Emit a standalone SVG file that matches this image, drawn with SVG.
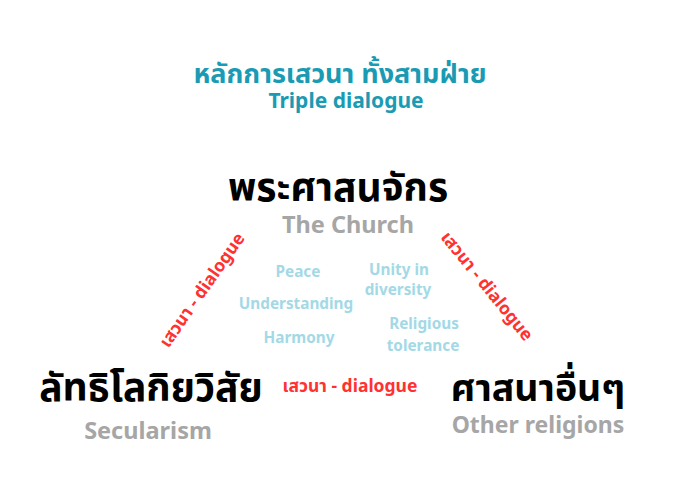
<svg xmlns="http://www.w3.org/2000/svg" width="700" height="503" viewBox="0 0 700 503">
<style>
text{font-family:"Noto Sans","Noto Sans Thai","DejaVu Sans",sans-serif;font-weight:bold;text-anchor:middle}
.title{fill:#1b9bb3;font-size:27px}
.sub{fill:#1b9bb3;font-size:21px}
.big{fill:#000;font-size:39px}
.en{fill:#a6a6a6;font-size:23.5px}
.dlg{fill:#ff3131;font-size:17.5px}
.val{fill:#a3d9e6;font-size:15.3px}
</style>
<rect width="700" height="503" fill="#fff"/>
<g id="title">
<text class="title" x="340" y="83">หลักการเสวนา ทั้งสามฝ่าย</text>
<text class="sub" x="346" y="108">Triple dialogue</text>
</g>
<g id="church">
<text class="big" x="338" y="201">พระศาสนจักร</text>
<text class="en" x="348" y="233">The Church</text>
</g>
<g id="secularism">
<text class="big" x="151" y="401">ลัทธิโลกิยวิสัย</text>
<text class="en" x="148" y="439">Secularism</text>
</g>
<g id="religions">
<text class="big" x="538" y="401" style="font-size:37.5px">ศาสนาอื่นๆ</text>
<text class="en" x="538" y="433" style="font-size:23px">Other religions</text>
</g>
<g id="connectors">
<text class="dlg" transform="translate(202,290) rotate(-55)" y="6">เสวนา - dialogue</text>
<text class="dlg" transform="translate(487,286) rotate(51)" y="6">เสวนา - dialogue</text>
<text class="dlg" x="350" y="392">เสวนา - dialogue</text>
</g>
<g id="values">
<text class="val" x="298" y="277">Peace</text>
<text class="val" x="399" y="275">Unity in</text>
<text class="val" x="398" y="295">diversity</text>
<text class="val" x="296" y="309">Understanding</text>
<text class="val" x="299" y="343">Harmony</text>
<text class="val" x="424" y="329">Religious</text>
<text class="val" x="423" y="351">tolerance</text>
</g>
</svg>
